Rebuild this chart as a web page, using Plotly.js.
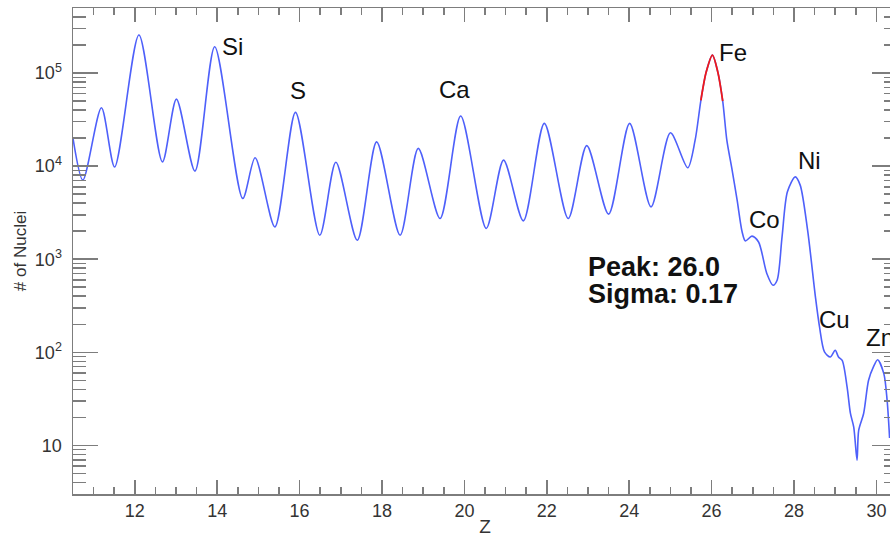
<!DOCTYPE html>
<html>
<head>
<meta charset="utf-8">
<script src="https://cdn.plot.ly/plotly-3.0.1.min.js"></script>
<style>
  html, body { margin: 0; padding: 0; overflow: hidden; background: #fff; }
  #chart { width: 910px; height: 537px; }
</style>
</head>
<body>
<div id="chart"></div>
<script>
// Charge spectrum: number of nuclei per reconstructed charge Z
const chargeZ = [
  10.50, 10.74, 11.19, 11.51, 12.10, 12.67, 13.01, 13.46, 13.94, 14.62,
  14.92, 15.40, 15.90, 16.49, 16.88, 17.40, 17.87, 18.44, 18.88, 19.41,
  19.91, 20.53, 20.95, 21.43, 21.94, 22.52, 22.97, 23.50, 24.01, 24.53,
  25.00, 25.42, 25.60, 25.74, 25.87, 26.02, 26.15, 26.27, 26.37, 26.49,
  26.62, 26.74, 26.82, 26.98, 27.14, 27.34, 27.49, 27.59, 27.71, 27.84,
  28.03, 28.15, 28.33, 28.52, 28.62, 28.74, 28.88, 29.00, 29.08, 29.17,
  29.29, 29.37, 29.45, 29.53, 29.57, 29.69, 29.81, 29.93, 30.03, 30.18,
  30.26, 30.32
];
const nucleiCount = [
  19900, 7070, 42400, 9800, 256000, 11100, 52500, 8840, 192000, 4500,
  12300, 2220, 37800, 1810, 11000, 1600, 18200, 1810, 15500, 2740,
  34500, 2140, 11600, 2580, 28800, 2740, 16600, 3050, 28800, 3650,
  22800, 9600, 19000, 51000, 103000, 156000, 103000, 50000, 19000, 9500,
  4300, 1970, 1570, 1770, 1530, 702, 525, 594, 1740, 5300,
  7670, 6250, 2050, 394, 187, 101, 89, 105, 89, 82,
  42, 22, 15.7, 6.9, 14.5, 22, 50, 70, 83, 59,
  30.5, 12
];

// Window used for the Gaussian fit of the Fe peak
const fitRange = [25.74, 26.27];
const fitPeak = '26.0';
const fitSigma = '0.17';

// Element labels: name, Z position of the label's left edge, log10 height
const elementNames = ['Si', 'S', 'Ca', 'Fe', 'Ni', 'Co', 'Cu', 'Zn'];
const elementLabelZ = [14.06, 15.72, 19.34, 26.14, 28.06, 26.87, 28.57, 29.71];
const elementLabelLogN = [5.28, 4.817, 4.828, 5.226, 4.065, 3.43, 2.355, 2.161];

const yTickVals = [10, 100, 1000, 10000, 100000];
const yTickText = ['10', '10<sup>2</sup>', '10<sup>3</sup>', '10<sup>4</sup>', '10<sup>5</sup>'];

const fitZ = [], fitN = [];
chargeZ.forEach((z, i) => {
  if (z >= fitRange[0] && z <= fitRange[1]) { fitZ.push(z); fitN.push(nucleiCount[i]); }
});

const yMinor = [];
for (let d = 1; d <= 100000; d *= 10) {
  for (let m = 2; m <= 9; m++) {
    const v = m * d;
    if (v >= 3 && v <= 500000) yMinor.push(v);
  }
}

const axisGray = '#7d7d7d';
const font = 'Liberation Sans, Arial, Helvetica, sans-serif';

const traces = [
  {
    x: chargeZ, y: nucleiCount, type: 'scatter', mode: 'lines',
    line: { color: 'rgb(78,96,250)', width: 1.6, shape: 'spline', smoothing: 0.8 },
    hoverinfo: 'x+y'
  },
  {
    x: fitZ, y: fitN, type: 'scatter', mode: 'lines',
    line: { color: 'rgb(240,25,25)', width: 1.8, shape: 'spline', smoothing: 0.8 },
    hoverinfo: 'x+y'
  }
];

const annotations = elementNames.map((name, i) => ({
  x: elementLabelZ[i], y: elementLabelLogN[i], xref: 'x', yref: 'y',
  text: name, showarrow: false, xanchor: 'left', yanchor: 'middle',
  font: { family: font, size: 24, color: '#111' }
}));
annotations.push(
  { x: 22.96, y: 2.917, xref: 'x', yref: 'y', text: '<b>Peak: ' + fitPeak + '</b>',
    showarrow: false, xanchor: 'left', yanchor: 'middle',
    font: { family: font, size: 27, color: '#111' } },
  { x: 22.96, y: 2.624, xref: 'x', yref: 'y', text: '<b>Sigma: ' + fitSigma + '</b>',
    showarrow: false, xanchor: 'left', yanchor: 'middle',
    font: { family: font, size: 27, color: '#111' } }
);

const layout = {
  width: 910, height: 537,
  margin: { l: 73, r: 13, t: 8, b: 43 },
  paper_bgcolor: '#fff', plot_bgcolor: '#fff',
  showlegend: false,
  font: { family: font, color: '#333' },
  xaxis: {
    range: [10.5, 30.5], tick0: 0, dtick: 2,
    ticks: 'inside', ticklen: 14, tickwidth: 1.5, tickcolor: axisGray,
    showline: true, linecolor: axisGray, linewidth: 1.5, mirror: 'ticks',
    showgrid: false, zeroline: false,
    tickfont: { family: font, size: 18, color: '#333' },
    minor: { ticks: 'inside', ticklen: 7, tickwidth: 1.5, tickcolor: axisGray, tick0: 0, dtick: 0.5, showgrid: false },
    title: { text: 'Z', font: { family: font, size: 19, color: '#333' }, standoff: 6 }
  },
  yaxis: {
    type: 'log', range: [Math.log10(3), Math.log10(500000)],
    tickmode: 'array', tickvals: yTickVals, ticktext: yTickText,
    ticks: 'inside', ticklen: 25, tickwidth: 1.5, tickcolor: axisGray,
    showline: true, linecolor: axisGray, linewidth: 1.5, mirror: 'ticks',
    showgrid: false, zeroline: false,
    ticklabelstandoff: 6,
    tickfont: { family: font, size: 18, color: '#333' },
    minor: { tickmode: 'array', tickvals: yMinor, ticks: 'inside', ticklen: 13, tickwidth: 1.5, tickcolor: axisGray, showgrid: false },
    title: { text: '# of Nuclei', font: { family: font, size: 17, color: '#333' }, standoff: 4 }
  },
  annotations: annotations
};

Plotly.newPlot('chart', traces, layout, { displayModeBar: false, staticPlot: true });
</script>
</body>
</html>
